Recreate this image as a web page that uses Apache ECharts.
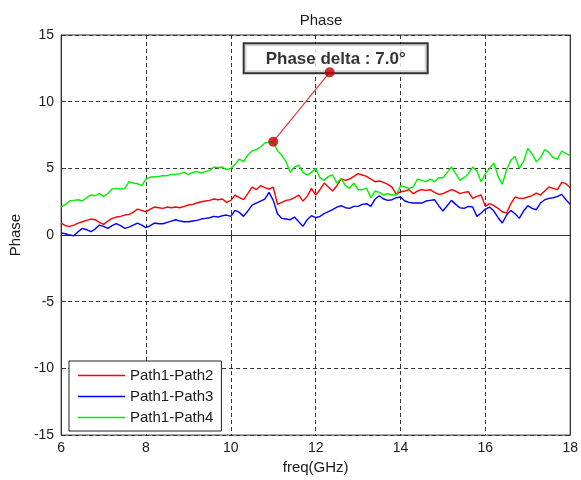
<!DOCTYPE html>
<html>
<head>
<meta charset="utf-8">
<script src="https://cdn.jsdelivr.net/npm/echarts@6/dist/echarts.min.js"></script>
<style>
  html, body { margin: 0; padding: 0; background: #fff; }
  #chart { width: 581px; height: 480px; }
</style>
</head>
<body>
<div id="chart"></div>
<script>
// Frequency sweep: 6–18 GHz sampled every 0.1 GHz
const freqStart = 6;
const freqStep = 0.1;
const seriesNames = ['Path1-Path2', 'Path1-Path3', 'Path1-Path4'];
const xTicks = [6, 8, 10, 12, 14, 16, 18];
const yTicks = [-15, -10, -5, 0, 5, 10, 15];

// Phase difference (degrees) per path pair
const path12 = [
  0.9, 0.7, 0.65, 0.75, 0.9, 1.0, 1.1, 1.2, 1.15, 0.95,
  0.8, 1.05, 1.25, 1.35, 1.4, 1.5, 1.55, 1.7, 1.95, 1.85,
  1.75, 1.95, 2.1, 2.05, 2.0, 2.1, 2.05, 2.1, 2.05, 2.15,
  2.25, 2.3, 2.4, 2.5, 2.55, 2.6, 2.7, 2.65, 2.7, 2.45,
  2.6, 3.0, 2.8, 2.65, 3.1, 3.6, 3.4, 3.7, 3.55, 3.45,
  3.6, 2.3, 2.45, 2.6, 2.65, 2.8, 3.0, 2.55, 2.9, 3.5,
  3.0, 3.4, 3.9, 3.6, 3.3, 3.7, 4.2, 4.1, 4.2, 4.4,
  4.6, 4.5, 4.4, 4.2, 4.0, 4.05, 3.95, 3.8, 3.6, 3.05,
  3.25, 3.3, 3.4, 3.1, 3.3, 3.4, 3.35, 3.4, 3.2, 3.05,
  3.1, 3.25, 3.4, 3.3, 3.1, 3.2, 3.25, 2.75, 2.9, 3.0,
  2.15, 2.35, 2.2, 2.0, 1.75, 1.65, 2.35, 2.85, 2.75, 2.75,
  2.85, 2.95, 3.15, 3.0, 3.3, 3.6, 3.5, 3.4, 3.95, 3.85,
  3.55
];
const path13 = [
  0.15, 0.1, 0.0, -0.05, 0.25, 0.5, 0.4, 0.25, 0.45, 0.75,
  0.65, 0.5, 0.7, 0.85, 0.7, 0.5, 0.6, 0.75, 0.9, 0.75,
  0.55, 0.7, 0.9, 0.85, 0.85, 0.95, 1.05, 1.15, 1.05, 1.0,
  1.0, 1.05, 1.1, 1.2, 1.25, 1.3, 1.4, 1.35, 1.45, 1.5,
  1.4, 1.85, 1.7, 1.4, 1.8, 2.25, 2.4, 2.55, 2.7, 3.2,
  2.6, 1.6, 1.25, 1.2, 1.15, 1.35, 1.0, 0.65, 1.15, 1.45,
  1.3, 1.4, 1.6, 1.75, 1.9, 2.1, 2.2, 2.05, 2.0, 2.15,
  2.15, 2.3, 2.35, 2.15, 2.7, 2.95, 2.7, 2.6, 2.65, 2.8,
  2.85, 2.55, 2.45, 2.4, 2.4, 2.4, 2.55, 2.6, 2.65, 2.2,
  1.8, 2.2, 2.6, 2.3, 2.05, 2.0, 2.15, 2.1, 1.4, 1.65,
  1.95, 2.1, 1.8, 1.3, 0.9, 1.5, 1.85, 1.6, 1.25, 1.8,
  2.2, 2.0, 1.9, 2.4, 2.65, 2.75, 2.8, 2.9, 3.05, 2.65,
  2.3
];
const path14 = [
  2.1, 2.3, 2.55, 2.6, 2.65, 2.55, 2.8, 3.0, 2.95, 3.1,
  2.9, 3.1, 3.45, 3.5, 3.45, 3.5, 4.0, 3.9, 3.85, 3.7,
  4.2, 4.35, 4.35, 4.4, 4.45, 4.45, 4.55, 4.55, 4.6, 4.7,
  4.55, 4.7, 4.75, 4.65, 4.75, 4.85, 5.1, 5.05, 5.1, 4.9,
  5.0, 5.3, 5.7, 5.5, 6.0, 6.3, 6.4, 6.6, 6.9, 6.95,
  7.0, 6.3, 6.0, 5.5, 4.7, 5.1, 5.25, 4.7, 4.5, 4.7,
  5.0, 4.3, 4.1, 4.4, 4.5, 3.9, 4.25, 3.7, 3.5, 3.9,
  3.4, 3.4, 3.5, 2.8, 3.3, 3.2, 3.0, 3.1, 3.0, 3.0,
  3.7, 3.6, 3.5, 3.6, 4.2, 4.1, 4.0, 4.2, 4.0, 4.3,
  4.3, 4.7, 5.1, 4.6, 4.1, 4.3, 4.6, 5.1, 4.8, 4.0,
  4.6, 5.0, 5.4, 4.4, 3.8, 4.9, 5.6, 5.9, 5.0, 5.5,
  6.5, 6.1, 5.5, 5.8, 6.4, 6.2, 5.8, 5.7, 6.3, 6.1,
  5.95
];

// Data tip on the Path1-Path4 peak and where its text box sits
const peakFreq = 11.0;
const peakDelta = 7.0;
const calloutAt = [12.33, 12.2];

const freq = path12.map((_, i) => +(freqStart + i * freqStep).toFixed(1));
const toPairs = vals => vals.map((v, i) => [freq[i], v]);

const textFont = '"Liberation Sans", Arial, sans-serif';
const ink = '#1a1a1a';
const frame = '#333';
const gridDash = { color: '#333', width: 1, type: [4, 3] };

const chart = echarts.init(document.getElementById('chart'), null, { renderer: 'canvas' });

const baseX = {
  type: 'value', min: xTicks[0], max: xTicks[xTicks.length - 1], interval: 2
};
const baseY = {
  type: 'value', min: yTicks[0], max: yTicks[yTicks.length - 1], interval: 5
};
const innerTick = { show: true, inside: true, length: 5, lineStyle: { color: frame } };
const frameLine = { show: true, lineStyle: { color: frame, width: 1 } };

chart.setOption({
  animation: false,
  backgroundColor: '#fff',
  textStyle: { fontFamily: textFont },
  title: {
    text: 'Phase',
    left: 316, top: 8,
    textAlign: 'center',
    textStyle: { fontFamily: textFont, fontSize: 15, fontWeight: 'normal', color: ink }
  },
  grid: {
    left: 61, right: 9, top: 35, bottom: 41,
    show: true, borderColor: frame, borderWidth: 1, backgroundColor: '#fff'
  },
  legend: {
    data: seriesNames.map(n => ({ name: n, icon: 'rect' })),
    orient: 'vertical',
    left: 69, top: 361,
    padding: [7, 8, 6, 9],
    itemWidth: 47, itemHeight: 1.5, itemGap: 6,
    backgroundColor: '#fff',
    borderColor: '#222', borderWidth: 1,
    textStyle: { fontFamily: textFont, fontSize: 15, color: ink }
  },
  xAxis: [
    Object.assign({}, baseX, {
      position: 'bottom',
      name: 'freq(GHz)', nameLocation: 'middle', nameGap: 21,
      nameTextStyle: { fontFamily: textFont, fontSize: 15, color: ink },
      axisLine: frameLine,
      axisTick: innerTick,
      axisLabel: { margin: 6, fontFamily: textFont, fontSize: 14, color: ink },
      splitLine: { show: true, lineStyle: gridDash }
    }),
    Object.assign({}, baseX, {
      position: 'top',
      axisLine: frameLine,
      axisTick: innerTick,
      axisLabel: { show: false },
      splitLine: { show: false }
    })
  ],
  yAxis: [
    Object.assign({}, baseY, {
      position: 'left',
      name: 'Phase', nameLocation: 'middle', nameGap: 35, nameRotate: 90,
      nameTextStyle: { fontFamily: textFont, fontSize: 15, color: ink },
      axisLine: frameLine,
      axisTick: innerTick,
      axisLabel: { margin: 7, fontFamily: textFont, fontSize: 14, color: ink },
      splitLine: { show: true, lineStyle: gridDash }
    }),
    Object.assign({}, baseY, {
      position: 'right',
      axisLine: frameLine,
      axisTick: innerTick,
      axisLabel: { show: false },
      splitLine: { show: false }
    })
  ],
  series: [
    {
      name: seriesNames[0], type: 'line', data: toPairs(path12),
      symbol: 'none', color: '#ff0000', lineStyle: { width: 1.4 }, z: 3
    },
    {
      name: seriesNames[1], type: 'line', data: toPairs(path13),
      symbol: 'none', color: '#0000ff', lineStyle: { width: 1.4 }, z: 3
    },
    {
      name: seriesNames[2], type: 'line', data: toPairs(path14),
      symbol: 'none', color: '#00f000', lineStyle: { width: 1.4 }, z: 3
    },
    {
      // leader line from the peak to the text box
      type: 'line', silent: true, symbol: 'none', z: 4,
      data: [[peakFreq, peakDelta], calloutAt],
      lineStyle: { color: '#e03a3a', width: 1.2 }
    },
    {
      // text box of the data tip
      type: 'scatter', silent: true, symbolSize: 0, z: 5,
      data: [calloutAt],
      label: {
        show: true, position: 'top', distance: 0, offset: [6, 0],
        formatter: 'Phase delta : ' + peakDelta.toFixed(1) + '°',
        fontFamily: textFont, fontSize: 17, fontWeight: 'bold', color: '#000',
        backgroundColor: '#fff', borderColor: '#000', borderWidth: 2,
        padding: [6, 21, 5, 21]
      }
    },
    {
      // end points of the data tip
      type: 'scatter', silent: true, symbol: 'circle', symbolSize: 10, z: 6,
      data: [[peakFreq, peakDelta], calloutAt],
      itemStyle: { color: '#c00000' }
    }
  ]
});
</script>
</body>
</html>
